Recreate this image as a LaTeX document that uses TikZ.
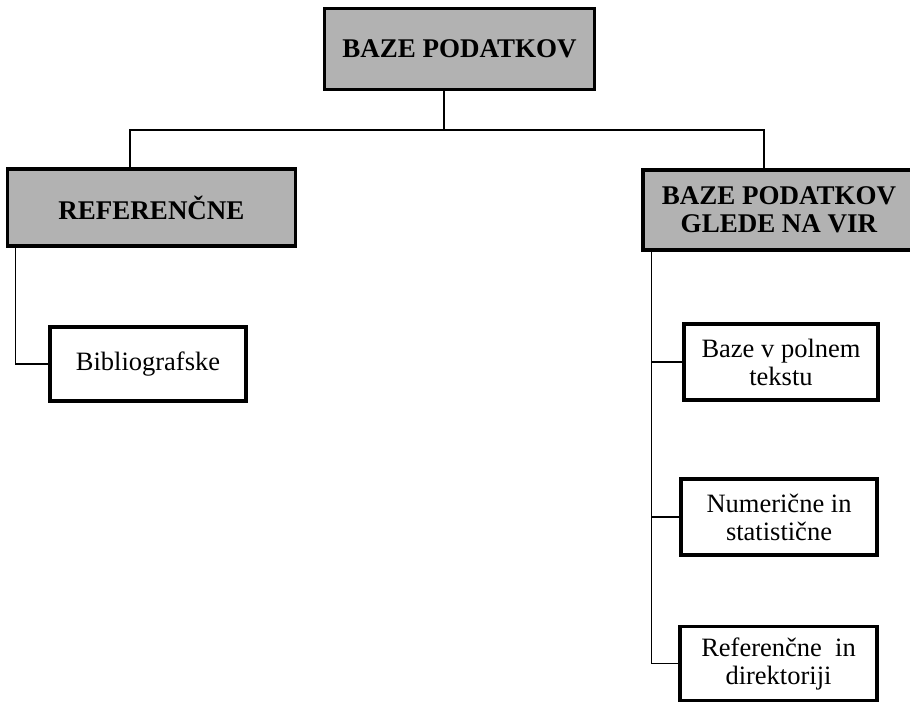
\documentclass[tikz,border=0pt]{standalone}
\usepackage{fontspec}
\setmainfont{Liberation Serif}
\tikzset{
  head/.style={draw, line width=3.5pt, fill=black!30, align=center,
    font=\fontsize{27}{28}\selectfont\bfseries, inner sep=0pt},
  leaf/.style={draw, line width=3.5pt, fill=white, align=center,
    font=\fontsize{26.5}{28}\selectfont, inner sep=0pt},
  link/.style={line width=1.4pt}
}
\begin{document}
\begin{tikzpicture}[x=1pt, y=-1pt]
                \useasboundingbox (0,0) rectangle (910,705);
                \node[head, minimum width=270, minimum height=81] (top) at (459.5,49) {BAZE PODATKOV};
                \node[head, minimum width=288, minimum height=77] (ref) at (151.5,207.5) {REFERENČNE};
                \node[head, minimum width=272, minimum height=80] (vir) at (779,210) {BAZE PODATKOV\\GLEDE NA VIR};
                \node[leaf, minimum width=196, minimum height=74] (bib) at (148,364) {Bibliografske};
                \node[leaf, minimum width=194, minimum height=76] (full) at (781,362) {Baze v polnem\\tekstu};
                \node[leaf, minimum width=196, minimum height=76] (num) at (779,517) {Numerične in\\statistične};
                \node[leaf, minimum width=197, minimum height=74] (dir) at (778.5,663.5) {Referenčne\ \ in\\direktoriji};
                \coordinate (split) at (444,130);
                \coordinate (refdrop) at (130,130);
                \coordinate (virdrop) at (764,130);
                \coordinate (reftrunk) at ([xshift=10pt]ref.south west);
                \coordinate (virtrunk) at ([xshift=10pt]vir.south west);
                \draw[link] (top.south -| split) -- (split);
                \draw[link] (ref.north -| refdrop) -- (refdrop) -- (virdrop) -- (vir.north -| virdrop);
                \draw[link] (reftrunk) |- (bib.west);
                \draw[link] (virtrunk) |- (dir.west);
                \draw[link] (full.west) -- (full.west -| virtrunk);
                \draw[link] (num.west) -- (num.west -| virtrunk);
            \end{tikzpicture}
\end{document}
